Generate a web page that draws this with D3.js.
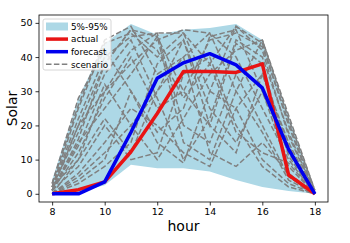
<!DOCTYPE html>
<html>
<head>
<meta charset="utf-8">
<script src="https://cdn.jsdelivr.net/npm/d3@7"></script>
<style>
    body { margin: 0; background: #fff; }
    text { font-family: "DejaVu Sans", sans-serif; fill: #000; }
</style>
</head>
<body>
<svg id="chart" width="350" height="243"></svg>
<script>
// data
const hours = [8, 9, 10, 11, 12, 13, 14, 15, 16, 17, 18];
const actual = [0, 1.2, 3.5, 12.3, 23.5, 35.8, 35.8, 35.5, 38, 5.5, 0];
const forecast = [0, 0, 3.5, 18, 33.8, 38.3, 41, 37.7, 31, 13, 0];
const bandLow = [0, 0.5, 2.5, 8.5, 7.5, 7.5, 6.5, 4, 2, 0.8, 0];
const bandHigh = [4, 28, 44, 49.7, 46.5, 48, 48.5, 49.7, 45, 23, 1];
const scenarios = [
    [1, 20, 38, 48, 46, 30, 20, 12, 35, 15, 0],
    [2, 25, 44, 47, 40, 47, 30, 25, 10, 3, 0],
    [0, 10, 30, 42, 47, 47, 38, 49, 44, 20, 0],
    [3, 28, 42, 30, 18, 25, 46, 48, 30, 8, 0],
    [1, 15, 25, 35, 46, 15, 10, 30, 45, 22, 1],
    [0, 5, 12, 20, 30, 40, 47, 40, 25, 10, 0],
    [2, 18, 35, 45, 28, 10, 22, 45, 40, 18, 0],
    [1, 8, 20, 10, 12, 35, 40, 20, 8, 2, 0],
    [0, 3, 8, 15, 38, 45, 25, 15, 30, 12, 0],
    [2, 22, 40, 46, 47, 20, 15, 35, 20, 5, 0],
    [1, 12, 28, 40, 25, 30, 45, 47, 43, 21, 0],
    [0, 6, 15, 25, 20, 12, 8, 25, 35, 14, 0],
    [3, 26, 45, 49, 35, 40, 12, 8, 15, 6, 0],
    [1, 14, 32, 20, 10, 22, 35, 42, 45, 23, 1],
    [2, 20, 30, 38, 45, 48, 47, 30, 18, 4, 0],
    [0, 4, 10, 30, 15, 9, 30, 49, 42, 17, 0],
    [1, 16, 38, 48, 42, 28, 38, 18, 12, 9, 0],
    [2, 10, 22, 12, 30, 45, 20, 44, 38, 11, 0]
];
const xTicks = [8, 10, 12, 14, 16, 18];
const yTicks = [0, 10, 20, 30, 40, 50];
const legendLabels = ['5%-95%', 'actual', 'forecast', 'scenario'];

const svg = d3.select('#chart');
const x = d3.scaleLinear().domain([7.5, 18.5]).range([39, 328]);
const y = d3.scaleLinear().domain([-2.4, 52.3]).range([202, 15]);

// band
const area = d3.area()
    .x((d, i) => x(hours[i]))
    .y0((d, i) => y(bandLow[i]))
    .y1((d, i) => y(bandHigh[i]));
svg.append('path')
    .datum(hours)
    .attr('d', area)
    .attr('fill', '#add8e6');

const line = d3.line()
    .x((d, i) => x(hours[i]))
    .y((d) => y(d));

// scenarios
svg.append('g').selectAll('path')
    .data(scenarios)
    .enter()
    .append('path')
    .attr('d', line)
    .attr('fill', 'none')
    .attr('stroke', '#808080')
    .attr('stroke-width', 1.5)
    .attr('stroke-dasharray', '5.5,2.4');

svg.append('path').datum(actual)
    .attr('d', line)
    .attr('fill', 'none')
    .attr('stroke', '#e81414')
    .attr('stroke-width', 3.5)
    .attr('stroke-linejoin', 'round');

svg.append('path').datum(forecast)
    .attr('d', line)
    .attr('fill', 'none')
    .attr('stroke', '#0000ee')
    .attr('stroke-width', 3.5)
    .attr('stroke-linejoin', 'round');

// axes
const xAxis = svg.append('g')
    .attr('transform', 'translate(0,202)')
    .call(d3.axisBottom(x).tickValues(xTicks).tickSize(3.5).tickPadding(3));
const yAxis = svg.append('g')
    .attr('transform', 'translate(39,0)')
    .call(d3.axisLeft(y).tickValues(yTicks).tickSize(3.5).tickPadding(3));
[xAxis, yAxis].forEach((a) => {
    a.select('.domain').remove();
    a.selectAll('text').attr('font-size', 9.5).attr('font-family', 'DejaVu Sans');
    a.selectAll('line').attr('stroke', '#000').attr('stroke-width', 0.8);
});

// frame
svg.append('rect')
    .attr('x', 39).attr('y', 15)
    .attr('width', 289).attr('height', 187)
    .attr('fill', 'none')
    .attr('stroke', '#000')
    .attr('stroke-width', 0.8);

// axis labels
svg.append('text')
    .attr('x', 183.5).attr('y', 231)
    .attr('text-anchor', 'middle')
    .attr('font-size', 14)
    .text('hour');
svg.append('text')
    .attr('transform', 'translate(17,108.5) rotate(-90)')
    .attr('text-anchor', 'middle')
    .attr('font-size', 14)
    .text('Solar');

// legend
const legend = svg.append('g').attr('transform', 'translate(43,19)');
legend.append('rect')
    .attr('width', 68).attr('height', 51)
    .attr('rx', 2)
    .attr('fill', '#fff')
    .attr('fill-opacity', 0.8)
    .attr('stroke', '#ccc')
    .attr('stroke-width', 0.8);
const rows = legend.selectAll('g.row')
    .data(legendLabels)
    .enter()
    .append('g')
    .attr('class', 'row')
    .attr('transform', (d, i) => 'translate(0,' + (7.5 + i * 12.6) + ')');
rows.each(function (d, i) {
    const g = d3.select(this);
    if (i === 0) {
        g.append('rect').attr('x', 3).attr('y', -4).attr('width', 22).attr('height', 8).attr('fill', '#add8e6');
    } else {
        g.append('line')
            .attr('x1', 3).attr('x2', 25)
            .attr('stroke', ['', '#e81414', '#0000ee', '#808080'][i])
            .attr('stroke-width', i === 3 ? 1.5 : 3.5)
            .attr('stroke-dasharray', i === 3 ? '5.5,2.4' : null);
    }
    g.append('text')
        .attr('x', 28).attr('y', 3.3)
        .attr('font-size', 8.8)
        .text(d);
});
</script>
</body>
</html>
